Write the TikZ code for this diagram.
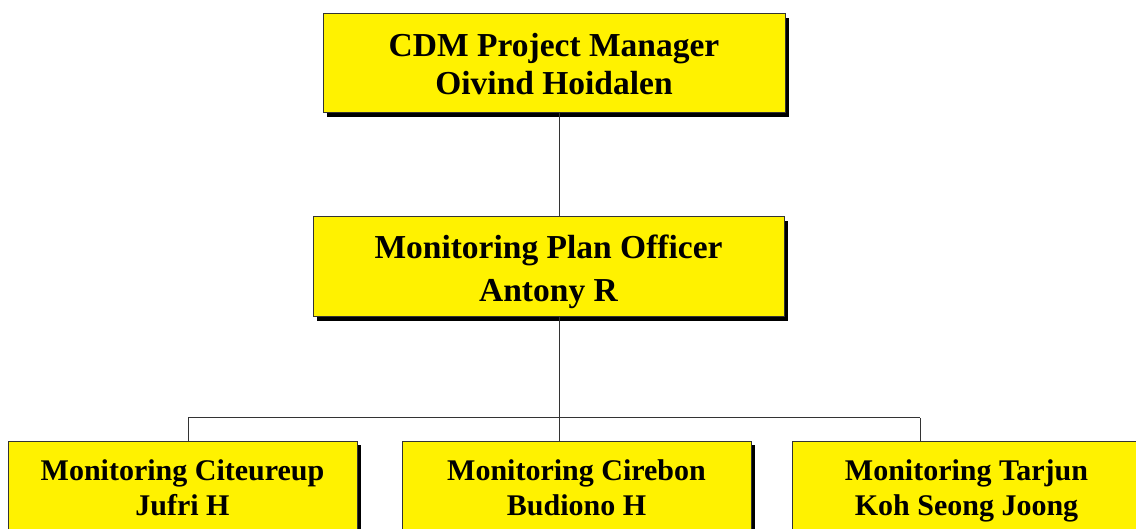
\documentclass[tikz,border=0pt]{standalone}
\usepackage{fontspec}
\setmainfont{Liberation Serif}
\usepackage{tikz}
\usetikzlibrary{shadows}

\begin{document}
\begin{tikzpicture}[x=1pt,y=-1pt,
    orgbox/.style={draw=black!80,line width=1pt,fill=yellow,inner sep=0pt,
      align=center,font=\bfseries\fontsize{33.5}{38}\selectfont,
      text height=63pt,text depth=0pt,
      drop shadow={shadow xshift=4pt,shadow yshift=-4pt,fill=black,opacity=1}},
    unitbox/.style={orgbox,minimum width=349pt,minimum height=100pt,
      font=\bfseries\fontsize{30}{35}\selectfont,text height=48pt},
    link/.style={draw=black!80,line width=1pt}]
  \useasboundingbox (0,0) rectangle (1136,529);
  \clip (0,0) rectangle (1136,529);

  % management
  \node[orgbox,minimum width=462pt,minimum height=99pt] (mgr) at (554,63.5)
    {CDM Project Manager\\Oivind Hoidalen};
  \node[orgbox,minimum width=471pt,minimum height=100pt,text height=70pt,
    font=\bfseries\fontsize{33.5}{43}\selectfont] (officer) at (548.5,267)
    {Monitoring Plan Officer\\Antony R};

  % monitoring sites
  \node[unitbox] (citeureup) at (182.5,491) {Monitoring Citeureup\\Jufri H};
  \node[unitbox] (cirebon) at (576.5,491) {Monitoring Cirebon\\Budiono H};
  \node[unitbox] (tarjun) at (966.5,491) {Monitoring Tarjun\\Koh Seong Joong};

  % connectors
  \coordinate (bus) at (559,418);
  \coordinate (busleft) at (188,418);
  \coordinate (busright) at (920,418);
  \draw[link] (mgr.south -| bus) -- (officer.north -| bus);
  \draw[link] (officer.south -| bus) -- (bus);
  \draw[link] (busleft) -- (busright);
  \draw[link] (busleft) -- (citeureup.north -| busleft);
  \draw[link] (bus) -- (cirebon.north -| bus);
  \draw[link] (busright) -- (tarjun.north -| busright);
\end{tikzpicture}
\end{document}
